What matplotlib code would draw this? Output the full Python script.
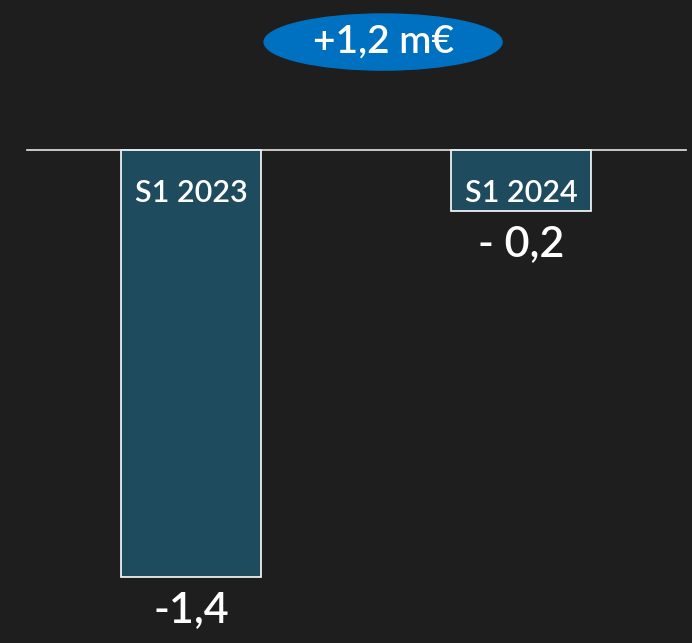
import matplotlib.pyplot as plt
from matplotlib.patches import Ellipse

periods = ['S1 2023', 'S1 2024']
values = [-1.4, -0.2]
value_labels = ['-1,4', '- 0,2']
delta_label = '+1,2 m€'

bg = '#1e1e1e'
bar_col = '#1f4b5f'

plt.rcParams['font.family'] = ['Lato', 'DejaVu Sans']
plt.rcParams['font.weight'] = 'semibold'

fig = plt.figure(figsize=(6.92, 6.43), dpi=100, facecolor=bg)
ax = fig.add_axes([0, 0, 1, 1])
ax.set_facecolor(bg)

x = list(range(len(periods)))
ax.bar(x, values, width=0.424, color=bar_col, edgecolor='white', linewidth=1.2)

# baseline
ax.plot([-0.497, 1.5], [0, 0], color='#e6e6e6', lw=1.2)

for xi, p, v, lab in zip(x, periods, values, value_labels):
    ax.text(xi, -0.14, p, ha='center', va='center', color='white', fontsize=22)
    ax.annotate(lab, (xi, v), xytext=(0, -10), textcoords='offset points',
                ha='center', va='top', color='white', fontsize=31)

# change badge
ax.add_patch(Ellipse((0.582, 0.354), 0.721, 0.184, color='#0070c0', zorder=3))
ax.text(0.582, 0.356, delta_label, ha='center', va='center', color='white',
        fontsize=28, zorder=4)

ax.set_xlim(-0.5788, 1.518)
ax.set_ylim(-1.6164, 0.4918)
ax.axis('off')

fig.savefig('out.png', dpi=100, facecolor=bg)
